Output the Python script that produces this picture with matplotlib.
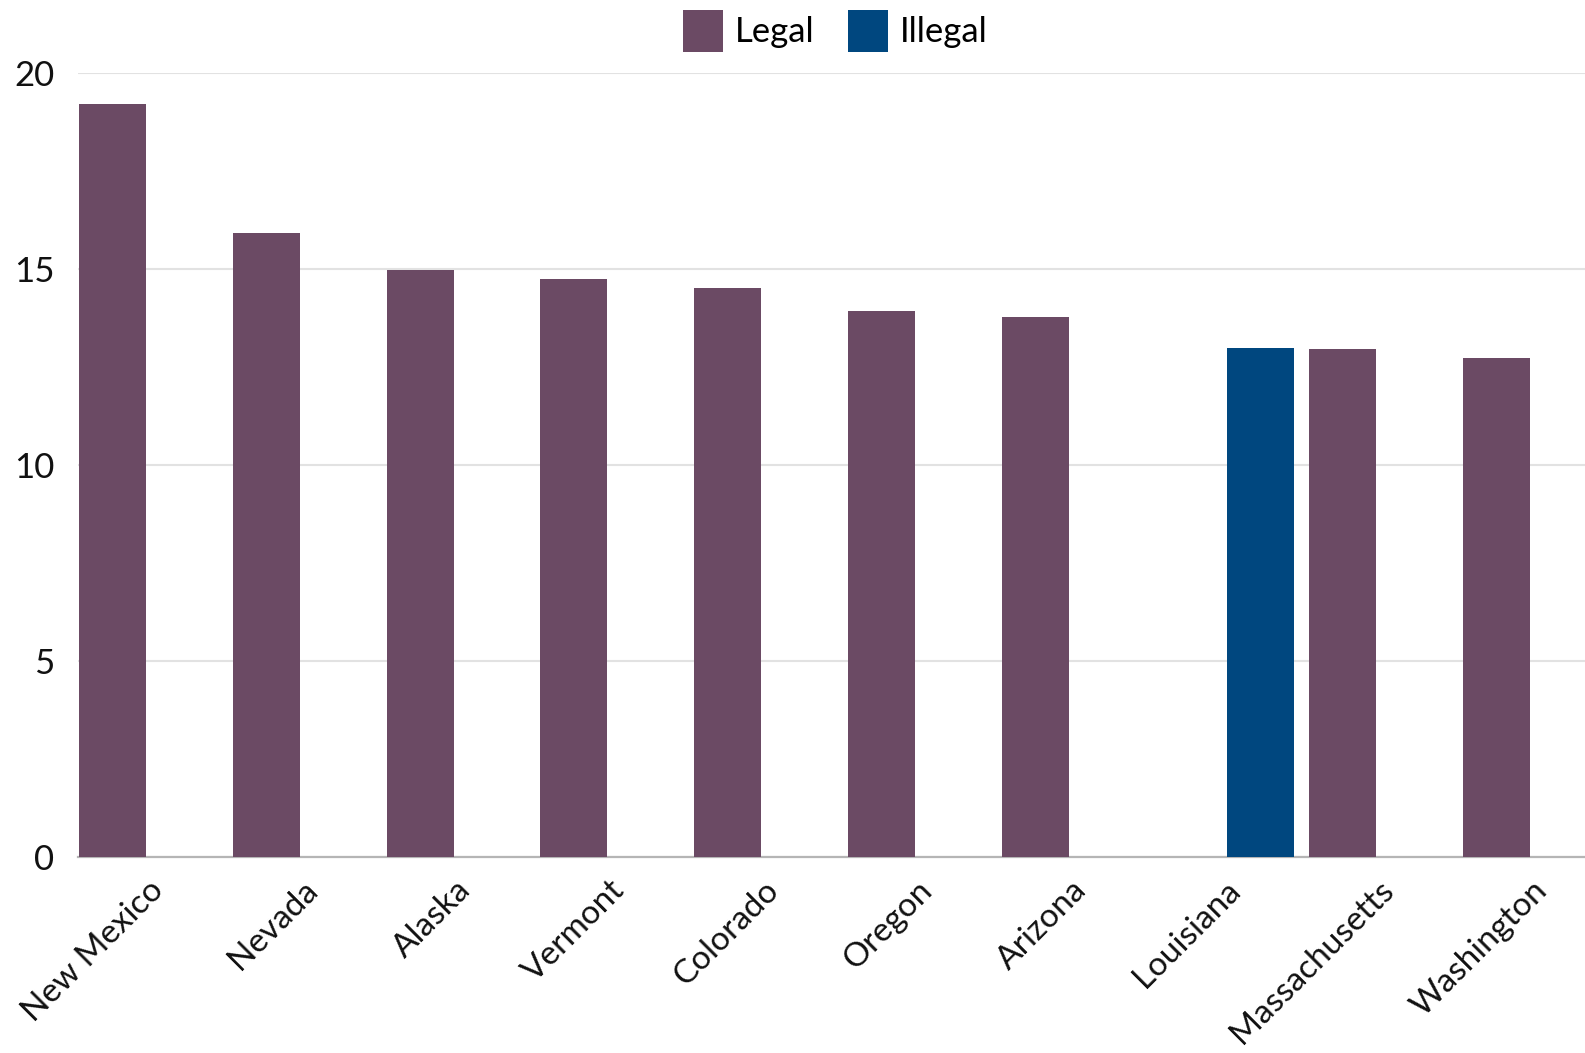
import numpy as np
import matplotlib
matplotlib.use("Agg")
import matplotlib.pyplot as plt
from matplotlib.patches import Patch

states = ['New Mexico', 'Nevada', 'Alaska', 'Vermont', 'Colorado',
          'Oregon', 'Arizona', 'Louisiana', 'Massachusetts', 'Washington']
legal = [19.21, 15.91, 14.97, 14.74, 14.52, 13.94, 13.78, np.nan, 12.95, 12.72]
illegal = [np.nan, np.nan, np.nan, np.nan, np.nan, np.nan, np.nan, 12.98, np.nan, np.nan]

c_legal = '#6B4A64'
c_illegal = '#00477F'

plt.rcParams['font.family'] = ['Lato', 'DejaVu Sans']

fig = plt.figure(figsize=(15.85, 10.53), dpi=100)
ax = fig.add_axes([0.0492, 0.1862, 0.9508, 0.7445])

x = np.arange(len(states))
w = 0.436
off = 0.231
ax.bar(x - off, legal, width=w, color=c_legal, zorder=3)
ax.bar(x + off, illegal, width=w, color=c_illegal, zorder=3)

ax.set_xlim(-0.455, 9.343)
ax.set_ylim(0, 20)
ax.set_yticks([0, 5, 10, 15, 20])
ax.yaxis.grid(True, color='#E2E2E2', linewidth=1.5, zorder=0)
ax.set_axisbelow(True)

for s in ['top', 'right', 'left']:
    ax.spines[s].set_visible(False)
ax.spines['bottom'].set_color('#B5B5B5')
ax.spines['bottom'].set_linewidth(1.6)

ax.tick_params(axis='y', length=0, pad=17, labelsize=25, labelcolor='#111111')
ax.tick_params(axis='x', length=0, pad=13, labelsize=24, labelcolor='#111111')
ax.set_xticks(x)
ax.set_xticklabels(states, rotation=45, ha='right', va='top', rotation_mode='anchor')

handles = [Patch(facecolor=c_legal, label='Legal'),
           Patch(facecolor=c_illegal, label='Illegal')]
fig.legend(handles=handles, loc='center', bbox_to_anchor=(0.527, 0.9706), ncol=2,
           frameon=False, fontsize=25, handlelength=1.15, handleheight=1.5,
           handletextpad=0.35, columnspacing=0.95)

fig.savefig('out.png', dpi=100)
